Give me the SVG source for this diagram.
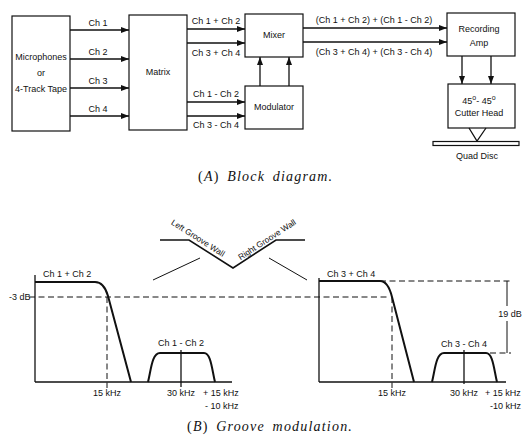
<svg xmlns="http://www.w3.org/2000/svg" width="532" height="444" viewBox="0 0 532 444">
<style>
.box{fill:#fff;stroke:#111;stroke-width:1.2}
.ln{fill:none;stroke:#111;stroke-width:1.3}
.thick{fill:none;stroke:#111;stroke-width:2}
.dash{fill:none;stroke:#111;stroke-width:1;stroke-dasharray:6,3.5}
.t{font-family:"Liberation Sans",Arial,sans-serif;font-size:9px;fill:#111}
.m{text-anchor:middle}
.cap{font-family:"Liberation Serif","Times New Roman",serif;font-size:14px;fill:#111;letter-spacing:1.2px;word-spacing:3px}
</style>
<defs>
<marker id="ah" viewBox="0 0 8 6" refX="8" refY="3" markerWidth="8" markerHeight="6" markerUnits="userSpaceOnUse" orient="auto">
<path d="M0,0 L8,3 L0,6 z" fill="#111"/>
</marker>
</defs>
<rect width="532" height="444" fill="#fff"/>

<g id="microphones">
<rect class="box" x="12" y="16" width="58" height="115"/>
<text class="t m" x="41" y="60">Microphones</text>
<text class="t m" x="41" y="76">or</text>
<text class="t m" x="41" y="92">4-Track Tape</text>
</g>
<g id="matrix">
<rect class="box" x="129" y="15" width="58" height="115"/>
<text class="t m" x="158" y="75">Matrix</text>
</g>
<g id="mixer">
<rect class="box" x="245" y="14" width="58" height="43"/>
<text class="t m" x="274" y="38">Mixer</text>
</g>
<g id="modulator">
<rect class="box" x="245" y="86" width="58" height="43"/>
<text class="t m" x="274" y="110">Modulator</text>
</g>
<g id="recording-amp">
<rect class="box" x="447" y="13" width="68" height="43"/>
<text class="t m" x="479" y="32">Recording</text>
<text class="t m" x="479" y="46">Amp</text>
</g>
<g id="cutter-head">
<rect class="box" x="448" y="84" width="67" height="44"/>
<text class="t m" x="479" y="104">45<tspan dy="-4" font-size="7">o</tspan><tspan dy="4">- 45</tspan><tspan dy="-4" font-size="7">o</tspan></text>
<text class="t m" x="479" y="116">Cutter Head</text>
</g>
<g id="quad-disc">
<path class="ln" d="M469,128 L477,141 L486,128"/>
<rect class="box" x="433" y="141.5" width="86" height="4"/>
<text class="t m" x="477" y="159">Quad Disc</text>
</g>

<g id="connectors">
<line class="ln" x1="70" y1="30" x2="129" y2="30" marker-end="url(#ah)"/>
<line class="ln" x1="70" y1="59" x2="129" y2="59" marker-end="url(#ah)"/>
<line class="ln" x1="70" y1="88" x2="129" y2="88" marker-end="url(#ah)"/>
<line class="ln" x1="70" y1="116" x2="129" y2="116" marker-end="url(#ah)"/>
<line class="ln" x1="187" y1="29" x2="245" y2="29" marker-end="url(#ah)"/>
<line class="ln" x1="187" y1="43" x2="245" y2="43" marker-end="url(#ah)"/>
<line class="ln" x1="187" y1="102" x2="245" y2="102" marker-end="url(#ah)"/>
<line class="ln" x1="187" y1="116" x2="245" y2="116" marker-end="url(#ah)"/>
<line class="ln" x1="260" y1="86" x2="260" y2="57" marker-end="url(#ah)"/>
<line class="ln" x1="289" y1="86" x2="289" y2="57" marker-end="url(#ah)"/>
<line class="ln" x1="303" y1="28" x2="447" y2="28" marker-end="url(#ah)"/>
<line class="ln" x1="303" y1="42" x2="447" y2="42" marker-end="url(#ah)"/>
<line class="ln" x1="462" y1="56" x2="462" y2="84" marker-end="url(#ah)"/>
<line class="ln" x1="491" y1="56" x2="491" y2="84" marker-end="url(#ah)"/>
<text class="t m" x="98" y="26">Ch 1</text>
<text class="t m" x="98" y="55">Ch 2</text>
<text class="t m" x="98" y="84">Ch 3</text>
<text class="t m" x="98" y="112">Ch 4</text>
<text class="t m" x="216" y="24">Ch 1 + Ch 2</text>
<text class="t m" x="216" y="56">Ch 3 + Ch 4</text>
<text class="t m" x="216" y="97">Ch 1 - Ch 2</text>
<text class="t m" x="216" y="128">Ch 3 - Ch 4</text>
<text class="t m" x="374" y="23">(Ch 1 + Ch 2) + (Ch 1 - Ch 2)</text>
<text class="t m" x="374" y="55">(Ch 3 + Ch 4) + (Ch 3 - Ch 4)</text>
</g>

<text class="cap" x="198" y="181">(<tspan font-style="italic">A</tspan>) <tspan font-style="italic">Block diagram.</tspan></text>

<!-- Groove -->
<path class="thick" style="stroke-width:1.6" d="M160,240 L189,240 L233,268 L276,240 L305,240"/>
<line class="ln" style="stroke-width:1" x1="200" y1="258" x2="153" y2="280"/>
<line class="ln" style="stroke-width:1" x1="269" y1="258" x2="307" y2="280"/>
<text class="t m" style="font-size:8.3px" transform="translate(196.5,240.5) rotate(32.5)">Left Groove Wall</text>
<text class="t m" style="font-size:8.3px" transform="translate(268.5,242) rotate(-33)">Right Groove Wall</text>

<!-- Left graph -->
<line class="ln" x1="35" y1="275" x2="35" y2="382"/>
<line class="ln" x1="35" y1="382" x2="232" y2="382"/>
<line class="dash" x1="29" y1="297" x2="390" y2="297"/>
<line class="dash" x1="107" y1="297" x2="107" y2="388"/>
<path class="thick" d="M35,282 L95,282 C102,282 106,289 108,296 L131,382"/>
<path class="thick" d="M148,382 C151,370 152,353 160,353 L204,353 C211,353 212,370 215,382"/>
<line class="ln" x1="181" y1="350" x2="181" y2="387"/>
<text class="t" x="9" y="300">-3 dB</text>
<text class="t" x="43" y="277">Ch 1 + Ch 2</text>
<text class="t m" x="181" y="346">Ch 1 - Ch 2</text>
<text class="t m" x="107" y="396">15 kHz</text>
<text class="t m" x="181" y="396">30 kHz</text>
<text class="t" x="203" y="396">+ 15 kHz</text>
<text class="t" x="205" y="409">- 10 kHz</text>

<!-- Right graph -->
<line class="ln" x1="319" y1="278" x2="319" y2="382"/>
<line class="ln" x1="319" y1="382" x2="506" y2="382"/>
<line class="dash" x1="380" y1="281" x2="511" y2="281"/>
<line class="dash" x1="490" y1="353" x2="511" y2="353"/>
<line class="dash" x1="392" y1="297" x2="392" y2="388"/>
<path class="thick" d="M319,281 L380,281 C387,281 390,289 392,297 L414,382"/>
<path class="thick" d="M432,382 C435,370 436,353 444,353 L486,353 C493,353 494,370 497,382"/>
<line class="ln" x1="464" y1="350" x2="464" y2="384"/>
<line class="ln" style="stroke-width:1" x1="507" y1="281" x2="507" y2="306"/>
<line class="ln" style="stroke-width:1" x1="507" y1="321" x2="507" y2="353"/>
<text class="t m" x="510" y="317">19 dB</text>
<text class="t" x="327" y="277">Ch 3 + Ch 4</text>
<text class="t m" x="464" y="347">Ch 3 - Ch 4</text>
<text class="t m" x="392" y="396">15 kHz</text>
<text class="t m" x="464" y="396">30 kHz</text>
<text class="t" x="485" y="396">+ 15 kHz</text>
<text class="t" x="490" y="409">-10 kHz</text>

<text class="cap" x="187" y="431">(<tspan font-style="italic">B</tspan>) <tspan font-style="italic">Groove modulation.</tspan></text>
</svg>
